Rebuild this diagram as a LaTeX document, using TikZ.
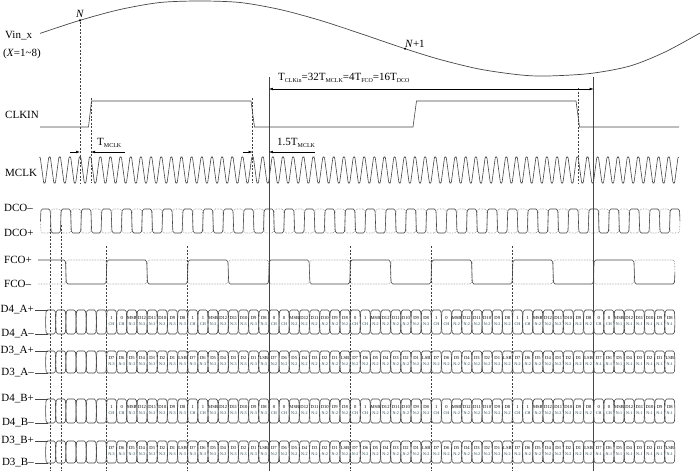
\documentclass[tikz,border=0pt]{standalone}
\usepackage{fontspec}
\setmainfont{Liberation Serif}
\usepackage[HTML]{xcolor}
\usetikzlibrary{positioning, arrows.meta}

\definecolor{linegray}{HTML}{454545}
\definecolor{dotgray}{HTML}{8A8A8A}
\definecolor{bittext}{HTML}{163E4A}

\newcommand{\tsub}[1]{\raisebox{-0.35ex}{\fontsize{6}{6}\selectfont #1}}
% one rail of an eye: from #1 to #2 at level #3, crossing at #4
\newcommand{\rail}[5]{\draw[#5] (#1,#4) .. controls ({#1+0.4},#3) .. ({#1+2},#3) -- ({#2-2},#3) .. controls ({#2-0.4},#3) .. (#2,#4);}

\begin{document}
\begin{tikzpicture}[x=1pt, y=-1pt, >={Latex[length=4pt,width=2.6pt]},
    wave/.style={draw=linegray, line width=0.6pt},
    ghost/.style={draw=dotgray, line width=0.6pt, densely dotted},
    guide/.style={draw=black!75, line width=0.5pt, dash pattern=on 2pt off 1.5pt},
    lbl/.style={font=\fontsize{11}{12}\selectfont, inner sep=0pt},
    bittop/.style={font=\fontsize{4.6}{5}\selectfont, inner sep=0pt},
    bitsub/.style={font=\fontsize{4.1}{5}\selectfont, inner sep=0pt, text=bittext},
    sdot/.style={circle, fill=black, inner sep=0pt, minimum size=2.4pt}]

    \useasboundingbox (0,0) rectangle (700,475);
    \def\bw{10.15}  % one bit = one MCLK period
    \def\bz{106.5}  % first frame start

    % 1. Analog input
    \draw[wave, line width=0.7pt] plot[smooth] coordinates {(40,33.4) (80,20.3) (120,9.5) (160,2.5) (200,1) (240,2.5) (280,9.5) (320,20.3) (360,33.4) (405,48.7) (440,59.5) (480,69.2) (520,74.9) (547,76) (590,73.5) (630,66) (665,52) (700,33)};
    \node[sdot] (n0) at (80,20.3) {};
    \node[sdot] (n1) at (405,48.7) {};
    \node[lbl, above=1.5pt of n0] (lblN) {\textit{N}};
    \node[lbl, above right=0pt and -1pt of n1] (lblN1) {\textit{N}+1};
    \node[lbl, anchor=west] (vin) at (5,36) {Vin\_x};
    \node[lbl, anchor=west] (vinx) at (3,54) {(\textit{X}=1\textasciitilde8)};

    % 2. CLKIN and MCLK
    \node[lbl, anchor=west] (clkin) at (5,115) {CLKIN};
    \draw[wave] (40,127) -- (88.5,127) -- (91.5,101) -- (251,101) -- (254.5,127) -- (413,127) -- (416.5,101) -- (576,101) -- (579.5,127) -- (679,127);
    \node[lbl, anchor=west] (mclk) at (5,173) {MCLK};
    \draw[wave, rounded corners=0.8pt] (39.4,157) \foreach \i in {1,...,63} {-- ++(0.8,0) -- ++(3.5,26) -- ++(1.55,0) -- ++(3.5,-26) -- ++(0.8,0)};

    % 3. DCO
    \node[lbl, anchor=west] (dcom) at (4,208) {DCO–};
    \node[lbl, anchor=west] (dcop) at (4,233) {DCO+};
    \foreach \m in {0,...,62} {
        \pgfmathsetmacro\xa{40.5+\bw*\m}
        \pgfmathsetmacro\xb{\xa+\bw}
        \ifodd\m\relax
            \rail{\xa}{\xb}{209}{221}{ghost} \rail{\xa}{\xb}{233}{221}{wave}
        \else
            \rail{\xa}{\xb}{209}{221}{wave} \rail{\xa}{\xb}{233}{221}{ghost}
        \fi
    }

    % 4. FCO
    \node[lbl, anchor=west] (fcop) at (4,260) {FCO+};
    \node[lbl, anchor=west] (fcom) at (4,284) {FCO–};
    \draw[wave] (38,260) -- (63.9,260) .. controls (65.5,260) .. (65.9,272);
    \draw[ghost] (38,284) -- (63.9,284) .. controls (65.5,284) .. (65.9,272);
    \foreach \j in {-1,...,13} {
        \pgfmathsetmacro\xa{\bz+4*\bw*\j}
        \pgfmathsetmacro\xb{\xa+4*\bw}
        \ifodd\j\relax
            \rail{\xa}{\xb}{284}{272}{wave} \rail{\xa}{\xb}{260}{272}{ghost}
        \else
            \rail{\xa}{\xb}{260}{272}{wave} \rail{\xa}{\xb}{284}{272}{ghost}
        \fi
    }

    % 5. Data lanes
    \foreach \ytop/\ybot/\lp/\lm in {310/334/D4\_A+/D4\_A–, 351/373/D3\_A+/D3\_A–, 399/423/D4\_B+/D4\_B–, 441/463/D3\_B+/D3\_B–} {
        \node[lbl, anchor=east] (lp\ytop) at (34,\ytop) {\lp};
        \node[lbl, anchor=east] (lm\ytop) at (34,\ybot) {\lm};
        \draw[wave] (lp\ytop.east) ++(1,0) -- (47.6,\ytop);
        \draw[wave] (lm\ytop.east) ++(1,0) -- (47.6,\ybot);
        \pgfmathsetmacro\ymid{(\ytop+\ybot)/2}
        \foreach \k in {-6,...,55} {
            \pgfmathsetmacro\xa{\bz+\bw*\k}
            \pgfmathsetmacro\xb{\xa+\bw}
            \rail{\xa}{\xb}{\ytop}{\ymid}{wave}
            \rail{\xa}{\xb}{\ybot}{\ymid}{wave}
        }
    }
    % channel bits and high bits
    \foreach \ytop in {310,399} {
        \foreach \f/\ca/\cb/\lag in {0/1/0/3, 1/1/1/3, 2/0/0/2, 3/0/1/2, 4/1/0/2, 5/1/1/2, 6/0/0/1} {
            \foreach \p/\hi/\lo in {0/\ca/CH, 1/\cb/CH, 2/MSB/N-\lag, 3/D12/N-\lag, 4/D11/N-\lag, 5/D10/N-\lag, 6/D9/N-\lag, 7/D8/N-\lag} {
                \node[bittop] (u\ytop-\f-\p) at ({\bz+\bw*(8*\f+\p+0.5)},{\ytop+8}) {\hi};
                \node[bitsub] (v\ytop-\f-\p) at ({\bz+\bw*(8*\f+\p+0.5)},{\ytop+14.5}) {\lo};
            }
        }
    }
    % low bits
    \foreach \ytop in {351,441} {
        \foreach \f/\lag in {0/3, 1/3, 2/2, 3/2, 4/2, 5/2, 6/1} {
            \foreach \p/\hi in {0/D7, 1/D6, 2/D5, 3/D4, 4/D3, 5/D2, 6/D1, 7/LSB} {
                \node[bittop] (u\ytop-\f-\p) at ({\bz+\bw*(8*\f+\p+0.5)},{\ytop+7}) {\hi};
                \node[bitsub] (v\ytop-\f-\p) at ({\bz+\bw*(8*\f+\p+0.5)},{\ytop+13}) {N-\lag};
            }
        }
    }

    % 6. Guide lines
    \draw[guide] (n0) -- (n0 |- 0,183);
    \foreach \x/\y in {91/98, 252.7/98, 578/88} \draw[guide] (\x,\y) -- (\x,183);
    \foreach \x in {50.7,60.85} \draw[guide] (\x,225) -- (\x,471);
    \foreach \k in {0,8,24,32,40} \draw[guide] ({\bz+\bw*\k},246) -- ({\bz+\bw*\k},471);
    \coordinate (ca) at (268.9,89);
    \coordinate (cb) at (593.7,89);
    \draw[wave] (ca |- 0,77) -- (ca |- 0,471);
    \draw[wave] (cb |- 0,77) -- (cb |- 0,471);

    % 7. Period annotations
    \draw[<->, line width=0.5pt] (ca) -- (cb);
    \node[lbl, anchor=west] (tclk) at (278,78) {T\tsub{CLKin}=32T\tsub{MCLK}=4T\tsub{FCO}=16T\tsub{DCO}};
    \coordinate (xN) at (80,152);
    \coordinate (xR) at (91,152);
    \coordinate (xF) at (252.7,152);
    \coordinate (xC) at (268.9,152);
    \draw[->, line width=0.5pt] ([xshift=-10pt]xN) -- (xN);
    \draw[->, line width=0.5pt] ([xshift=34pt]xR) -- (xR);
    \draw[->, line width=0.5pt] ([xshift=-10pt]xF) -- (xF);
    \draw[->, line width=0.5pt] ([xshift=46pt]xC) -- (xC);
    \node[lbl, anchor=west] (tm) at (97,143) {T\tsub{MCLK}};
    \node[lbl, anchor=west] (tm15) at (277,143) {1.5T\tsub{MCLK}};

\end{tikzpicture}
\end{document}
